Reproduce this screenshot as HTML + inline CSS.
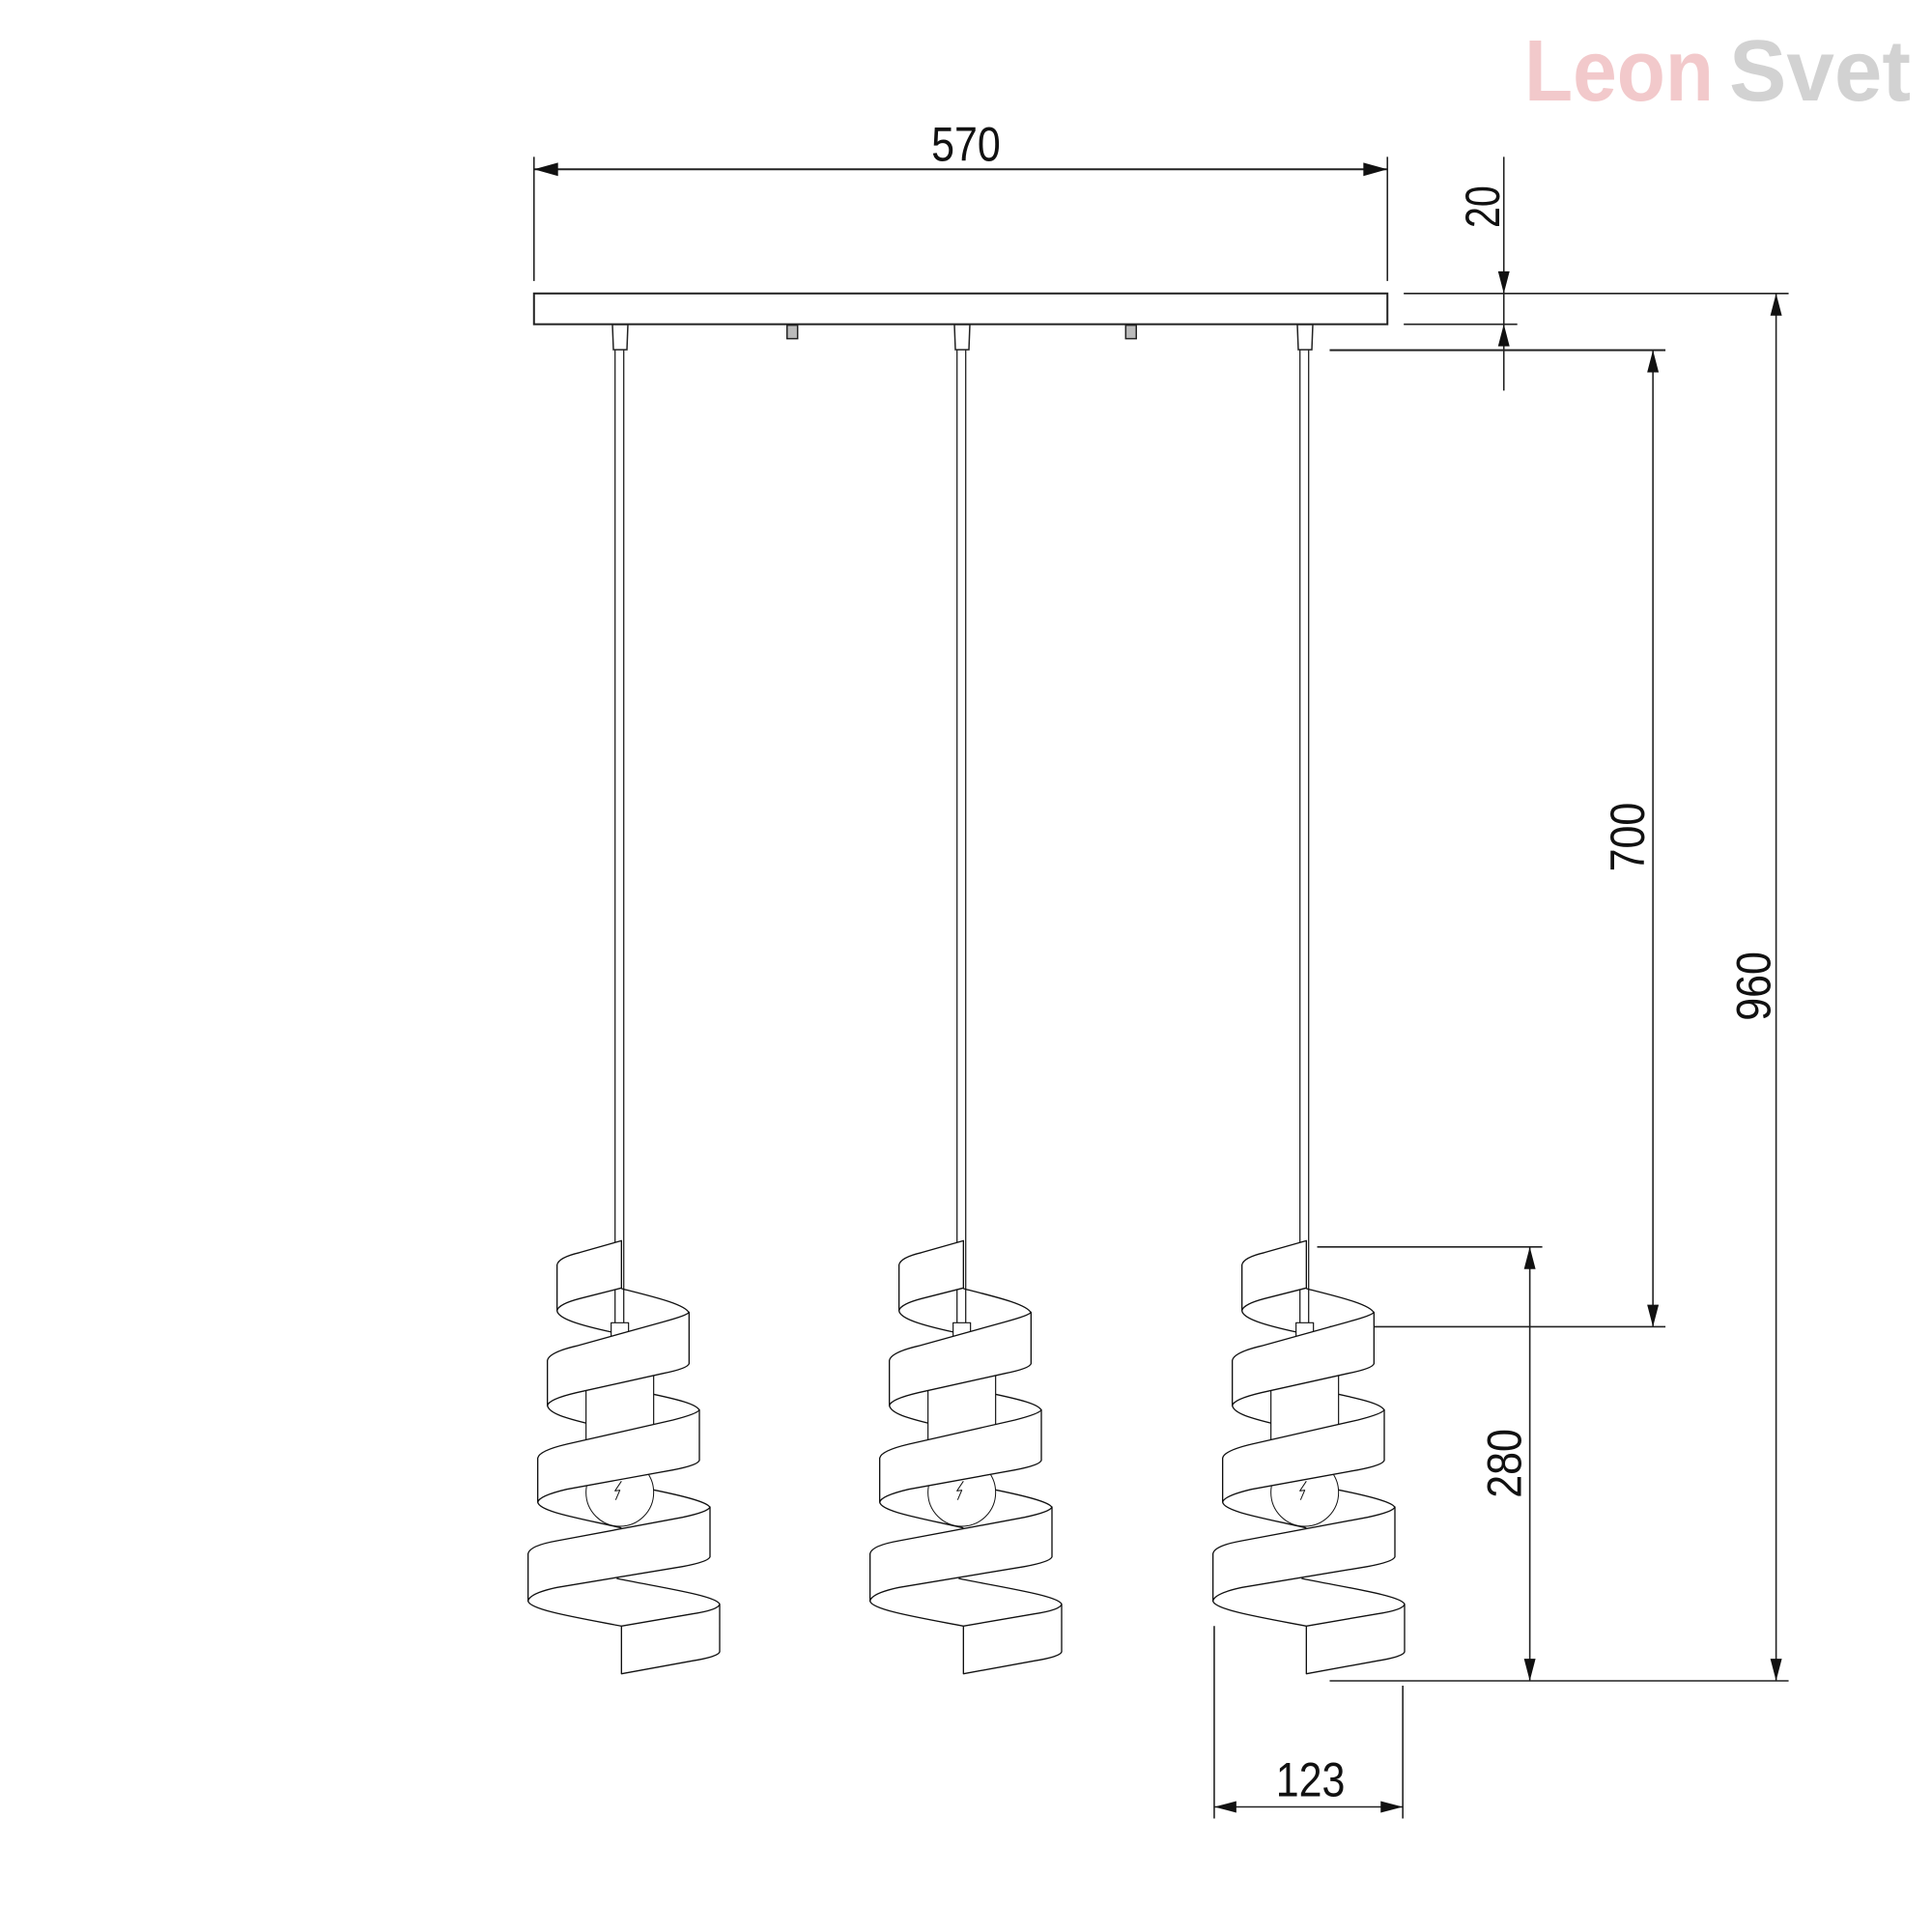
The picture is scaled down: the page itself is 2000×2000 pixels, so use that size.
<!DOCTYPE html>
<html><head><meta charset="utf-8"><style>html,body{margin:0;padding:0;background:#fff}svg{display:block}</style></head>
<body>
<svg width="2000" height="2000" viewBox="0 0 2000 2000" xmlns="http://www.w3.org/2000/svg">
<defs>
<g id="lamp">
  <line x1="636.7" y1="362" x2="636.7" y2="1370" stroke="#222" stroke-width="1.3"/>
  <line x1="645.7" y1="362" x2="645.7" y2="1370" stroke="#222" stroke-width="1.3"/>
  <g transform="translate(500,1250) scale(0.33333)" fill="none" stroke="#111" stroke-width="4" stroke-linejoin="round">
    <path d="M230,320 C232,345 300,365 400,387"/>
    <path d="M430,252 C520,275 630,300 640,328"/>
    <path d="M200,615 C205,640 260,655 330,672"/>
    <path d="M520,578 C600,595 665,610 672,630"/>
    <path d="M170,915 C175,945 300,965 430,995"/>
    <path d="M520,875 C620,895 700,915 705,932"/>
    <path d="M140,1222 C145,1250 300,1275 430,1300"/>
    <path d="M415,1152 C550,1180 725,1205 735,1232"/>
    <rect x="320" y="520" width="210" height="210" fill="#fff" stroke-width="3.5"/>
    <circle cx="425" cy="885" r="105" fill="#fff" stroke-width="3"/>
    <path d="M430,850 L410,880 L425,878 L412,908" stroke-width="3"/>
    <rect x="398" y="358" width="54" height="47" fill="#fff" stroke-width="3.5"/>
    <path d="M230,320 L230,178 Q235,155 300,140 L430,103 L430,250 L300,283 Q235,300 230,320 Z" fill="#fff"/>
    <path d="M200,615 L200,475 Q205,450 290,430 L560,355 Q635,335 640,325 L640,485 Q635,500 560,515 L290,575 Q205,595 200,615 Z" fill="#fff"/>
    <path d="M170,915 L170,778 Q175,755 260,735 L590,660 Q668,640 672,628 L672,785 Q668,800 590,815 L260,875 Q175,895 170,915 Z" fill="#fff"/>
    <path d="M140,1222 L140,1075 Q145,1050 230,1035 L620,962 Q700,945 705,930 L705,1085 Q700,1100 620,1115 L230,1180 Q145,1198 140,1222 Z" fill="#fff"/>
    <path d="M430,1300 L430,1448 L650,1408 Q730,1395 735,1380 L735,1232 Q730,1250 650,1262 Z" fill="#fff"/>
  </g>
</g>
</defs>

<text x="1578" y="104" font-family="Liberation Sans, sans-serif" font-weight="bold" font-size="90" fill="#f2c9cb" textLength="196" lengthAdjust="spacingAndGlyphs">Leon</text>
<text x="1790" y="104" font-family="Liberation Sans, sans-serif" font-weight="bold" font-size="90" fill="#d2d2d2" textLength="188" lengthAdjust="spacingAndGlyphs">Svet</text>

<g transform="scale(0.996)">
<g stroke="#222" stroke-width="1.6" fill="none">
  <rect x="555" y="305" width="887" height="32" stroke-width="2"/>
  <line x1="555" y1="163" x2="555" y2="292"/>
  <line x1="1442" y1="163" x2="1442" y2="292"/>
  <line x1="555" y1="176" x2="1442" y2="176" stroke-width="2"/>
  <line x1="1563" y1="163" x2="1563" y2="406"/>
  <line x1="1459" y1="305" x2="1859" y2="305"/>
  <line x1="1459" y1="337" x2="1577" y2="337"/>
  <line x1="1382" y1="364" x2="1731" y2="364" stroke-width="2"/>
  <line x1="1718" y1="364" x2="1718" y2="1379"/>
  <line x1="1846" y1="305" x2="1846" y2="1747"/>
  <line x1="1590" y1="1296" x2="1590" y2="1747"/>
  <line x1="1369" y1="1296" x2="1603" y2="1296"/>
  <line x1="1382" y1="1379" x2="1731" y2="1379"/>
  <line x1="1382" y1="1747" x2="1859" y2="1747"/>
  <line x1="1262" y1="1690" x2="1262" y2="1890"/>
  <line x1="1458" y1="1752" x2="1458" y2="1890"/>
  <line x1="1262" y1="1878" x2="1458" y2="1878"/>
</g>
<g fill="#111">
  <polygon points="555,176 580,169 580,183"/>
  <polygon points="1442,176 1417,169 1417,183"/>
  <polygon points="1563,305 1557,282 1569,282"/>
  <polygon points="1563,337 1557,360 1569,360"/>
  <polygon points="1718,364 1712,387 1724,387"/>
  <polygon points="1718,1379 1712,1356 1724,1356"/>
  <polygon points="1846,305 1840,328 1852,328"/>
  <polygon points="1846,1747 1840,1724 1852,1724"/>
  <polygon points="1590,1296 1584,1319 1596,1319"/>
  <polygon points="1590,1747 1584,1724 1596,1724"/>
  <polygon points="1262,1878 1285,1872 1285,1884"/>
  <polygon points="1458,1878 1435,1872 1435,1884"/>
</g>
<g fill="#bbb" stroke="#222" stroke-width="1.5">
  <rect x="818" y="338" width="11" height="14"/>
  <rect x="1170" y="338" width="11" height="14"/>
</g>
<g font-family="Liberation Sans Narrow, Liberation Sans, sans-serif" font-size="50" fill="#111" text-anchor="middle">
  <text x="1004" y="167" textLength="72" lengthAdjust="spacingAndGlyphs">570</text>
  <text x="1362" y="1867" textLength="72" lengthAdjust="spacingAndGlyphs">123</text>
  <text transform="translate(1558,215) rotate(-90)" textLength="44" lengthAdjust="spacingAndGlyphs">20</text>
  <text transform="translate(1709,870) rotate(-90)" textLength="72" lengthAdjust="spacingAndGlyphs">700</text>
  <text transform="translate(1840,1025) rotate(-90)" textLength="72" lengthAdjust="spacingAndGlyphs">960</text>
  <text transform="translate(1581,1521) rotate(-90)" textLength="72" lengthAdjust="spacingAndGlyphs">280</text>
</g>
</g>

<g fill="#fff" stroke="#222" stroke-width="1.5">
  <path d="M634,336 L650,336 L649,362 L635,362 Z"/>
  <path d="M988,336 L1004,336 L1003,362 L989,362 Z"/>
  <path d="M1343,336 L1359,336 L1358,362 L1344,362 Z"/>
</g>

<use href="#lamp"/>
<use href="#lamp" transform="translate(354,0)"/>
<use href="#lamp" transform="translate(709,0)"/>
</svg>
</body></html>
